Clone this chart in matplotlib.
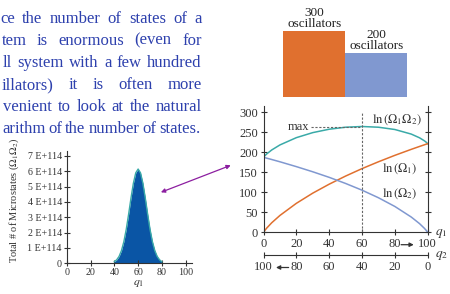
import matplotlib
matplotlib.use("Agg")
import matplotlib.pyplot as plt

plt.rcParams['font.family'] = ['Liberation Serif', 'DejaVu Serif']
plt.rcParams['mathtext.fontset'] = 'stix'

# ---------------- data ----------------
text_lines = [
    "ce the number of states of a",
    "tem is enormous (even for",
    "ll system with a few hundred",
    "illators) it is often more",
    "venient to look at the natural",
    "arithm of the number of states.",
]

oscillators = [300, 200]
oscillator_labels = ["300\noscillators", "200\noscillators"]

q1_peak = [40, 42, 44, 46, 48, 50, 52, 54, 56, 58, 60, 62, 64, 66, 68, 70, 72, 74, 76, 78, 80]
microstates = [0.10, 0.23, 0.45, 0.83, 1.41, 2.21, 3.20, 4.26, 5.22, 5.90, 6.15,
               5.90, 5.22, 4.26, 3.20, 2.21, 1.41, 0.83, 0.45, 0.23, 0.10]
micro_ticks = [0, 1, 2, 3, 4, 5, 6, 7]
micro_ticklabels = ["0", "1 E+114", "2 E+114", "3 E+114", "4 E+114", "5 E+114", "6 E+114", "7 E+114"]

q1_grid = [0, 1, 2, 5, 10, 20, 30, 40, 50, 60, 70, 80, 90, 95, 98, 99, 100]
ln_omega1 = [0, 5.7, 10.7, 23.8, 42.1, 72.4, 97.9, 120.3, 140.6, 159.2, 176.3, 192.4, 207.4, 214.6, 218.8, 220.2, 221.6]
ln_omega2 = [187.5, 186.4, 185.3, 182.0, 176.3, 164.2, 151.3, 137.4, 122.1, 105.3, 86.4, 64.6, 38.1, 21.8, 9.9, 5.3, 0]
ln_total = [187.5, 192.1, 196.1, 205.8, 218.4, 236.6, 249.2, 257.7, 262.7, 264.5, 262.7, 257.0, 245.5, 236.3, 228.7, 225.5, 221.6]
q_max = 60
ln_max = 264.5

# ---------------- styles ----------------
W, H = 450, 294
def fx(px): return px / W
def fy(py): return 1 - py / H

TEXT_BLUE = '#2d40ad'
ORANGE = '#e0702f'
LAVENDER = '#8098d0'
TEAL = '#3aaaa8'
FILL_BLUE = '#0a55a5'
PURPLE = '#8c1ea0'
INK = '#333333'

fig = plt.figure(figsize=(4.5, 2.94), dpi=100)

# ---------------- justified paragraph ----------------
renderer = fig.canvas.get_renderer()
baselines = [22.7, 44.8, 66.9, 89.0, 111.1, 133.2]
x_lefts = [0.5, 1.5, 3.0, 2.0, 3.0, 2.0]
x_rights = [201.5, 201.5, 201.5, 201.5, 201.5, 200.0]
for line, yb, xl, xr in zip(text_lines, baselines, x_lefts, x_rights):
    words = line.split()
    objs = [fig.text(0, fy(yb), w, fontsize=12, color=TEXT_BLUE, va='baseline', ha='left')
            for w in words]
    widths = [o.get_window_extent(renderer).width for o in objs]
    gap = (xr - xl - sum(widths)) / max(len(words) - 1, 1)
    x = xl
    for o, w in zip(objs, widths):
        o.set_x(fx(x))
        x += w + gap

# ---------------- oscillator bars ----------------
axb = fig.add_axes([fx(283.3), fy(96.7), fx(124), 96.7 / H])
axb.bar([0, 1], oscillators, width=1.0, color=[ORANGE, LAVENDER], align='center')
axb.set_xlim(-0.5, 1.5)
axb.set_ylim(0, 300 * 96.7 / 65.7)
axb.axis('off')
for i, (v, lab) in enumerate(zip(oscillators, oscillator_labels)):
    axb.annotate(lab, (i, v), xytext=(0, 0.5), textcoords='offset points',
                 ha='center', va='bottom', fontsize=9.5, linespacing=0.95, color='#222222')

# ---------------- Gaussian (total microstates) ----------------
axg = fig.add_axes([fx(66.7), fy(263.3), fx(125), 7.3 * 15.33 / H])
axg.fill_between(q1_peak, microstates, 0, color=FILL_BLUE, lw=0)
axg.plot(q1_peak, microstates, color=TEAL, lw=1.0)
axg.set_xlim(0, 105)
axg.set_ylim(0, 7.3)
axg.set_xticks([0, 20, 40, 60, 80, 100])
axg.set_yticks(micro_ticks)
axg.set_yticklabels(micro_ticklabels)
for s in ['top', 'right']:
    axg.spines[s].set_visible(False)
for s in ['left', 'bottom']:
    axg.spines[s].set_linewidth(0.8)
    axg.spines[s].set_color(INK)
axg.tick_params(direction='inout', length=4, width=0.8, colors=INK, pad=1.5)
axg.tick_params(axis='y', labelsize=7.2)
axg.tick_params(axis='x', labelsize=7.2)
axg.text(60, -1.3, r"$q_1$", ha='center', va='center', fontsize=8.5, color=INK)
fig.text(fx(14), fy(200), r"Total # of Microstates ($\Omega_1\Omega_2$)", rotation=90,
         ha='center', va='center', fontsize=7.4, color=INK)

# ---------------- ln curves ----------------
ax = fig.add_axes([fx(263.5), fy(232.3), fx(164.2), 126 / H])
ax.plot(q1_grid, ln_total, color=TEAL, lw=1.1)
ax.plot(q1_grid, ln_omega1, color=ORANGE, lw=1.1)
ax.plot(q1_grid, ln_omega2, color=LAVENDER, lw=1.1)
ax.set_xlim(0, 100)
ax.set_ylim(0, 315)
ax.set_xticks([0, 20, 40, 60, 80, 100])
ax.set_yticks([0, 50, 100, 150, 200, 250, 300])
ax.spines['top'].set_visible(False)
for s in ['left', 'right', 'bottom']:
    ax.spines[s].set_linewidth(0.8)
    ax.spines[s].set_color(INK)
ax.tick_params(direction='inout', length=5, width=0.8, colors=INK, labelsize=9, pad=1.5)
ax.tick_params(axis='y', right=True)
ax.vlines(q_max, 0, 298, colors='#666666', linestyles=(0, (2, 1.5)), lw=0.8)
ax.hlines(ln_max, 29, q_max, colors='#666666', linestyles=(0, (2, 1.5)), lw=0.8)
ax.text(28, ln_max, "max", ha='right', va='center', fontsize=9, color=INK)
ax.text(66, 281, r"$\mathrm{ln}\,(\Omega_1\Omega_2)$", ha='left', va='center', fontsize=9, color=INK)
ax.text(72, 160, r"$\mathrm{ln}\,(\Omega_1)$", ha='left', va='center', fontsize=9, color=INK)
ax.text(72, 96, r"$\mathrm{ln}\,(\Omega_2)$", ha='left', va='center', fontsize=9, color=INK)
ax.text(108.5, -4, r"$q_1$", ha='center', va='center', fontsize=9.5, clip_on=False, color=INK)
arrow_kw = dict(arrowstyle='-|>', color=INK, lw=0.9, mutation_scale=6, shrinkA=0, shrinkB=0)
ax.annotate("", xy=(91.5, -31), xytext=(83.8, -31), annotation_clip=False, arrowprops=arrow_kw)

ax2 = ax.twiny()
ax2.set_xlim(100, 0)
ax2.set_xticks([0, 20, 40, 60, 80, 100])
ax2.xaxis.set_ticks_position('bottom')
ax2.xaxis.set_label_position('bottom')
ax2.spines['bottom'].set_position(('outward', 16.1))
for s in ['top', 'left', 'right']:
    ax2.spines[s].set_visible(False)
ax2.spines['bottom'].set_linewidth(0.8)
ax2.spines['bottom'].set_color(INK)
ax2.tick_params(direction='inout', length=5, width=0.8, colors=INK, labelsize=9, pad=2)
ax.text(108.5, -59, r"$q_2$", ha='center', va='center', fontsize=9.5, clip_on=False, color=INK)
ax.annotate("", xy=(7.6, -88), xytext=(15.3, -88), annotation_clip=False, arrowprops=arrow_kw)

# ---------------- connecting arrow ----------------
fig.add_artist(matplotlib.patches.FancyArrowPatch(
    (fx(158.3), fy(193.3)), (fx(233.3), fy(164.3)), transform=fig.transFigure,
    arrowstyle='<|-|>', mutation_scale=6, color=PURPLE, lw=0.9))

fig.savefig("out.png", dpi=100)
